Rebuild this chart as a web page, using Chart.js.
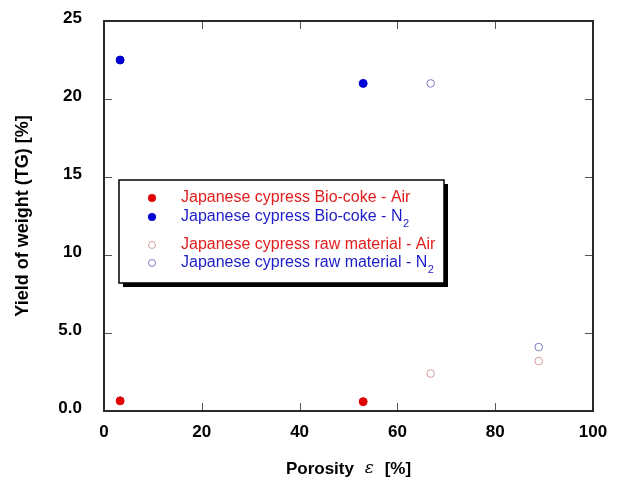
<!DOCTYPE html>
<html>
<head>
<meta charset="utf-8">
<script src="https://cdn.jsdelivr.net/npm/chart.js@4/dist/chart.umd.min.js"></script>
<style>
  html, body { margin: 0; padding: 0; background: #fff; }
  #wrap { width: 620px; height: 479px; }
</style>
</head>
<body>
<div id="wrap"><canvas id="c" width="620" height="479"></canvas></div>
<script>
// Porosity (x) and TG yield (y) for each sample group
const porosityBioCoke = [3.3, 53.0];
const bioCokeAir = [0.65, 0.6];
const bioCokeN2 = [22.5, 21.0];
const porosityRaw = [66.8, 88.9];
const rawAir = [2.4, 3.2];
const rawN2 = [21.0, 4.1];

const xTickValues = [0, 20, 40, 60, 80, 100];
const yTickValues = [0, 5, 10, 15, 20, 25];
const yTickLabels = ['0.0', '5.0', '10', '15', '20', '25'];

// Legend entries: main text plus optional subscript
const seriesNames = [
  { text: 'Japanese cypress Bio-coke - Air', sub: '' },
  { text: 'Japanese cypress Bio-coke - N', sub: '2' },
  { text: 'Japanese cypress raw material - Air', sub: '' },
  { text: 'Japanese cypress raw material - N', sub: '2' }
];

const RED = '#e00000';
const BLUE = '#0000d4';
const RED_TEXT = '#e41c1c';
const BLUE_TEXT = '#1c1cc8';
const RAW_RED = '#d89a9a';
const RAW_BLUE = '#7c7cc4';

function pts(xs, ys) { return xs.map((x, i) => ({ x: x, y: ys[i] })); }

const datasets = [
  { label: seriesNames[0].text, data: pts(porosityBioCoke, bioCokeAir),
    backgroundColor: RED, borderColor: RED, pointRadius: 4, borderWidth: 1 },
  { label: seriesNames[1].text + seriesNames[1].sub, data: pts(porosityBioCoke, bioCokeN2),
    backgroundColor: BLUE, borderColor: BLUE, pointRadius: 4, borderWidth: 1 },
  { label: seriesNames[2].text, data: pts(porosityRaw, rawAir),
    backgroundColor: 'rgba(255,255,255,0)', borderColor: RAW_RED, pointRadius: 3.8, borderWidth: 1 },
  { label: seriesNames[3].text + seriesNames[3].sub, data: pts(porosityRaw, rawN2),
    backgroundColor: 'rgba(255,255,255,0)', borderColor: RAW_BLUE, pointRadius: 3.8, borderWidth: 1 }
];
const legendColors = [
  { fill: RED, stroke: RED, text: RED_TEXT, r: 4 },
  { fill: BLUE, stroke: BLUE, text: BLUE_TEXT, r: 4 },
  { fill: null, stroke: RAW_RED, text: RED_TEXT, r: 3.5 },
  { fill: null, stroke: RAW_BLUE, text: BLUE_TEXT, r: 3.5 }
];

// Frame, inward tick marks, boxed legend with drop shadow, x-axis title
const decorations = {
  id: 'decorations',
  afterDatasetsDraw(chart) {
    const ctx = chart.ctx;
    const a = chart.chartArea;
    const xs = chart.scales.x, ys = chart.scales.y;
    ctx.save();
    // inward ticks on all four sides
    ctx.strokeStyle = '#555';
    ctx.lineWidth = 1;
    const tl = 8;
    xTickValues.forEach(v => {
      const px = Math.round(xs.getPixelForValue(v)) + 0.5;
      ctx.beginPath();
      ctx.moveTo(px, a.bottom); ctx.lineTo(px, a.bottom - tl);
      ctx.moveTo(px, a.top); ctx.lineTo(px, a.top + tl);
      ctx.stroke();
    });
    yTickValues.forEach(v => {
      const py = Math.round(ys.getPixelForValue(v)) + 0.5;
      ctx.beginPath();
      ctx.moveTo(a.left, py); ctx.lineTo(a.left + tl, py);
      ctx.moveTo(a.right, py); ctx.lineTo(a.right - tl, py);
      ctx.stroke();
    });
    // frame
    ctx.strokeStyle = '#2a2a2a';
    ctx.lineWidth = 2;
    ctx.strokeRect(a.left, a.top, a.right - a.left, a.bottom - a.top);

    // legend box
    const bx = a.left + 15, by = a.top + 159, bw = 325, bh = 103;
    ctx.fillStyle = '#000';
    ctx.fillRect(bx + 4, by + 4, bw, bh);
    ctx.fillStyle = '#fff';
    ctx.fillRect(bx, by, bw, bh);
    ctx.strokeStyle = '#000';
    ctx.lineWidth = 1.5;
    ctx.strokeRect(bx, by, bw, bh);

    const rowsY = [by + 18, by + 37, by + 65, by + 83];
    const markX = bx + 33, textX = bx + 62;
    seriesNames.forEach((s, i) => {
      const c = legendColors[i];
      const y = rowsY[i];
      ctx.beginPath();
      ctx.arc(markX, y, c.r, 0, Math.PI * 2);
      if (c.fill) { ctx.fillStyle = c.fill; ctx.fill(); }
      else { ctx.strokeStyle = c.stroke; ctx.lineWidth = 1; ctx.stroke(); }
      ctx.fillStyle = c.text;
      ctx.font = '16px "Liberation Sans", Arial, sans-serif';
      ctx.textBaseline = 'middle';
      ctx.textAlign = 'left';
      ctx.fillText(s.text, textX, y);
      if (s.sub) {
        const w = ctx.measureText(s.text).width;
        ctx.font = '11px "Liberation Sans", Arial, sans-serif';
        ctx.fillText(s.sub, textX + w + 0.5, y + 7);
      }
    });

    // x-axis title with italic epsilon
    const parts = [
      { t: 'Porosity', f: 'bold 17px "Liberation Sans", Arial, sans-serif' },
      { t: '  \u03b5  ', f: 'italic 17px "DejaVu Serif", serif' },
      { t: '[%]', f: 'bold 17px "Liberation Sans", Arial, sans-serif' }
    ];
    let total = 0;
    parts.forEach(p => { ctx.font = p.f; p.w = ctx.measureText(p.t).width; total += p.w; });
    let x = (a.left + a.right) / 2 - total / 2;
    ctx.fillStyle = '#000';
    ctx.textBaseline = 'middle';
    parts.forEach(p => { ctx.font = p.f; ctx.fillText(p.t, x, 469); x += p.w; });
    ctx.restore();
  }
};

new Chart(document.getElementById('c'), {
  type: 'scatter',
  data: { datasets: datasets },
  options: {
    responsive: false,
    animation: false,
    devicePixelRatio: 1,
    layout: { padding: { top: 21, right: 27, left: 0, bottom: 0 } },
    plugins: { legend: { display: false }, tooltip: { enabled: false } },
    elements: { point: { pointStyle: 'circle' } },
    scales: {
      x: {
        type: 'linear', min: 0, max: 100,
        afterFit(s) { s.height = 68; s.paddingLeft = 0; s.paddingRight = 0; },
        afterBuildTicks(s) { s.ticks = xTickValues.map(v => ({ value: v })); },
        grid: { display: false, drawTicks: false },
        border: { display: false },
        ticks: {
          padding: 11,
          color: '#000',
          font: { family: '"Liberation Sans", Arial, sans-serif', size: 17, weight: 'bold' },
          callback: v => String(v)
        }
      },
      y: {
        type: 'linear', min: 0, max: 25,
        afterFit(s) { s.width = 104; s.paddingTop = 0; s.paddingBottom = 0; },
        afterBuildTicks(s) { s.ticks = yTickValues.map(v => ({ value: v })); },
        grid: { display: false, drawTicks: false },
        border: { display: false },
        ticks: {
          padding: 22,
          labelOffset: -3,
          color: '#000',
          font: { family: '"Liberation Sans", Arial, sans-serif', size: 17, weight: 'bold' },
          callback: v => yTickLabels[yTickValues.indexOf(v)]
        },
        title: {
          display: true,
          text: 'Yield of weight (TG) [%]',
          color: '#000',
          padding: { top: 12, bottom: 0 },
          font: { family: '"Liberation Sans", Arial, sans-serif', size: 18, weight: 'bold' }
        }
      }
    }
  },
  plugins: [decorations]
});
</script>
</body>
</html>
